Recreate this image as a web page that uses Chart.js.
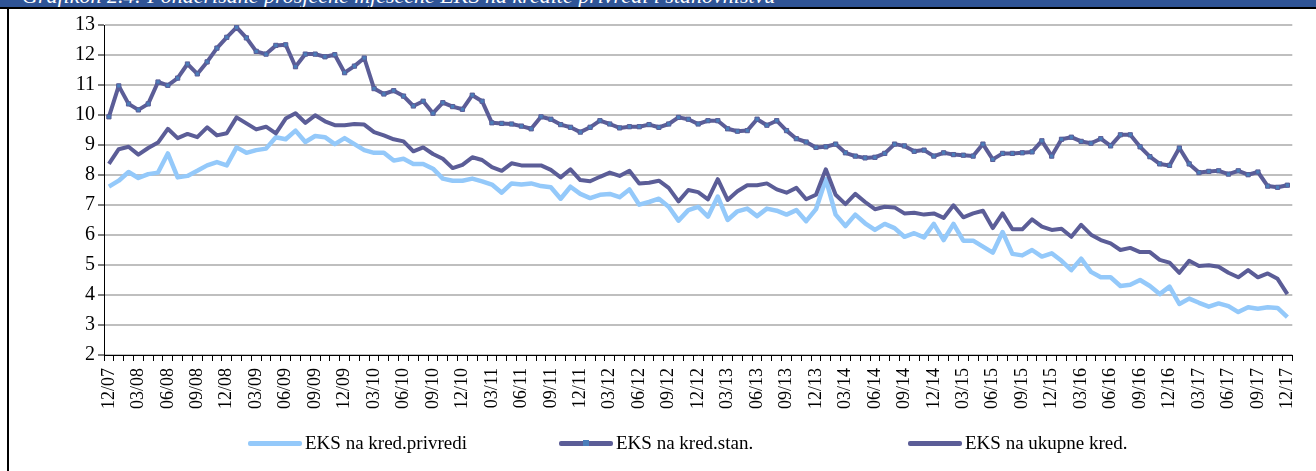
<!DOCTYPE html>
<html>
<head>
<meta charset="utf-8">
<script src="https://cdn.jsdelivr.net/npm/chart.js@4.4.0/dist/chart.umd.min.js"></script>
<style>
  body { margin: 0; background: #fff; }
  #wrap { position: relative; width: 1316px; height: 471px; overflow: hidden; background: #fff; }
  canvas { position: absolute; left: 0; top: 0; }
  #band { position: absolute; left: 0; top: 0; width: 1316px; height: 7px; background: #2F5496; overflow: hidden; }
  #band span { position: absolute; left: 22px; top: -17px; font: italic 22px "Liberation Serif"; color: #fff; white-space: nowrap; }
  #frameTop { position: absolute; left: 0; top: 7px; width: 1316px; height: 2px; background: #000; }
  #frameLeft { position: absolute; left: 7px; top: 7px; width: 2px; height: 464px; background: #000; }
  .leg { position: absolute; top: 433px; height: 20px; font: 19px "Liberation Serif"; color: #000; white-space: nowrap; }
  .leg i { position: absolute; left: 0; top: 8px; width: 54px; height: 5px; border-radius: 2px; }
  .leg i em { position: absolute; left: 24px; top: -1px; width: 6px; height: 6px; }
  .leg b { position: absolute; left: 57px; top: 0; font-weight: normal; line-height: 20px; }
</style>
</head>
<body>
<div id="wrap">
  <canvas id="lineEks" width="1316" height="471"></canvas>
  <div id="band"><span>Grafikon 2.4: Ponderisane prosječne mjesečne EKS na kredite privredi i stanovništvu</span></div>
  <div id="frameTop"></div>
  <div id="frameLeft"></div>
  <div id="legend"></div>
</div>
<script>
// monthly labels 12/07 .. 12/17
const months = [];
for (let y = 2007, m = 12; y < 2018; ) {
  months.push(String(m).padStart(2, "0") + "/" + String(y % 100).padStart(2, "0"));
  if (y === 2017 && m === 12) break;
  m++;
  if (m > 12) { m = 1; y++; }
}

const seriesNames = ["EKS na kred.privredi", "EKS na kred.stan.", "EKS na ukupne kred."];

const eksPrivredi = [
  7.61, 7.81, 8.10, 7.90, 8.03, 8.08, 8.72, 7.92, 7.97, 8.14, 8.32, 8.43, 8.32, 8.92, 8.74, 8.83, 8.88, 9.26, 9.19, 9.48, 9.10, 9.30, 9.26, 9.03, 9.23, 9.03, 8.83, 8.74, 8.74, 8.48,
  8.54, 8.37, 8.37, 8.21, 7.88, 7.81, 7.81, 7.88, 7.79, 7.68, 7.41, 7.72, 7.68, 7.72, 7.63, 7.59, 7.21, 7.61, 7.37, 7.23, 7.34, 7.37, 7.26, 7.52, 7.01, 7.10, 7.21, 6.94, 6.48, 6.83,
  6.94, 6.61, 7.28, 6.50, 6.79, 6.88, 6.63, 6.88, 6.81, 6.68, 6.83, 6.46, 6.86, 7.86, 6.68, 6.30, 6.68, 6.39, 6.17, 6.37, 6.23, 5.94, 6.06, 5.92, 6.37, 5.83, 6.37, 5.81, 5.81, 5.61,
  5.41, 6.10, 5.37, 5.32, 5.50, 5.28, 5.39, 5.14, 4.83, 5.21, 4.77, 4.59, 4.59, 4.30, 4.34, 4.50, 4.30, 4.03, 4.28, 3.70, 3.88, 3.74, 3.61, 3.72, 3.63, 3.43, 3.59, 3.54, 3.59, 3.57, 3.26
];

const eksStan = [
  9.94, 10.97, 10.37, 10.17, 10.37, 11.10, 10.99, 11.23, 11.70, 11.37, 11.77, 12.23, 12.59, 12.92, 12.57, 12.12, 12.03, 12.32, 12.34, 11.61, 12.03, 12.03, 11.94, 12.01, 11.41, 11.63, 11.90, 10.88, 10.70, 10.81,
  10.63, 10.30, 10.46, 10.06, 10.41, 10.28, 10.19, 10.66, 10.46, 9.74, 9.72, 9.70, 9.63, 9.54, 9.94, 9.86, 9.68, 9.59, 9.43, 9.59, 9.81, 9.70, 9.57, 9.61, 9.61, 9.68, 9.59, 9.70, 9.92, 9.86,
  9.70, 9.81, 9.81, 9.54, 9.46, 9.48, 9.86, 9.66, 9.81, 9.48, 9.21, 9.10, 8.92, 8.94, 9.03, 8.74, 8.63, 8.57, 8.59, 8.72, 9.03, 8.97, 8.79, 8.83, 8.63, 8.74, 8.68, 8.66, 8.63, 9.03,
  8.52, 8.72, 8.72, 8.74, 8.77, 9.14, 8.63, 9.19, 9.26, 9.12, 9.06, 9.21, 8.97, 9.34, 9.34, 8.94, 8.61, 8.37, 8.32, 8.90, 8.37, 8.08, 8.12, 8.14, 8.03, 8.14, 8.01, 8.10, 7.63, 7.59, 7.66
];

const eksUkupne = [
  8.37, 8.86, 8.94, 8.68, 8.90, 9.08, 9.54, 9.23, 9.37, 9.26, 9.59, 9.32, 9.39, 9.92, 9.72, 9.52, 9.61, 9.39, 9.88, 10.06, 9.74, 9.99, 9.79, 9.66, 9.66, 9.70, 9.68, 9.43, 9.32, 9.19,
  9.12, 8.79, 8.92, 8.70, 8.54, 8.23, 8.34, 8.59, 8.50, 8.26, 8.14, 8.39, 8.32, 8.32, 8.32, 8.17, 7.92, 8.19, 7.83, 7.79, 7.94, 8.08, 7.97, 8.14, 7.72, 7.74, 7.81, 7.57, 7.12, 7.50,
  7.43, 7.19, 7.86, 7.17, 7.46, 7.66, 7.66, 7.72, 7.52, 7.41, 7.57, 7.19, 7.34, 8.19, 7.34, 7.03, 7.37, 7.10, 6.86, 6.94, 6.92, 6.72, 6.74, 6.68, 6.72, 6.57, 6.99, 6.59, 6.72, 6.81,
  6.23, 6.72, 6.19, 6.19, 6.52, 6.28, 6.17, 6.21, 5.94, 6.34, 6.01, 5.83, 5.72, 5.50, 5.57, 5.43, 5.43, 5.17, 5.08, 4.74, 5.14, 4.97, 4.99, 4.94, 4.74, 4.59, 4.83, 4.59, 4.72, 4.54, 4.03
];

const lightBlue = "#94C9FA";
const darkLine = "#5B5D97";
const markerBlue = "#4A7EBB";
const serif = "Liberation Serif";

const lineEksChart = new Chart(document.getElementById("lineEks"), {
  type: "line",
  data: {
    labels: months,
    datasets: [
      { label: seriesNames[0], data: eksPrivredi, borderColor: lightBlue, borderWidth: 4.5, pointRadius: 0, tension: 0, order: 3, borderJoinStyle: "round" },
      { label: seriesNames[1], data: eksStan, borderColor: darkLine, borderWidth: 4, pointStyle: "rect", pointRadius: 3,
        pointBackgroundColor: markerBlue, pointBorderColor: darkLine, pointBorderWidth: 1, tension: 0, order: 1, borderJoinStyle: "round" },
      { label: seriesNames[2], data: eksUkupne, borderColor: darkLine, borderWidth: 4, pointRadius: 0, tension: 0, order: 2, borderJoinStyle: "round" }
    ]
  },
  options: {
    responsive: false,
    animation: false,
    layout: { padding: { top: 25, right: 5, bottom: 56, left: 0 } },
    plugins: { legend: { display: false }, tooltip: { enabled: false } },
    scales: {
      x: {
        offset: true,
        grid: { offset: true, drawOnChartArea: false, tickColor: "#000", tickLength: 6, tickWidth: 1 },
        border: { color: "#000", width: 1 },
        ticks: {
          autoSkip: false, minRotation: 90, maxRotation: 90, padding: 7, color: "#000",
          font: { family: serif, size: 18 },
          callback: (v, i) => (i % 3 === 0 ? months[i] : "")
        },
        afterFit: (s) => { s.height = 60; }
      },
      y: {
        min: 2, max: 13,
        ticks: { stepSize: 1, padding: 3, color: "#000", font: { family: serif, size: 20 } },
        grid: { color: "#BFBFBF", lineWidth: 2, tickColor: "#000", tickWidth: 1, tickLength: 6 },
        border: { color: "#000", width: 1 },
        afterFit: (s) => { s.width = 104; }
      }
    }
  }
});

// legend in html, taken from the datasets
const legendPos = [248, 559, 908];
const legendEl = document.getElementById("legend");
lineEksChart.data.datasets.forEach((ds, i) => {
  const item = document.createElement("div");
  item.className = "leg";
  item.style.left = legendPos[i] + "px";
  const marker = i === 1 ? `<em style="background:${markerBlue}"></em>` : "";
  item.innerHTML = `<i style="background:${ds.borderColor}">${marker}</i><b>${ds.label}</b>`;
  legendEl.appendChild(item);
});
</script>
</body>
</html>
